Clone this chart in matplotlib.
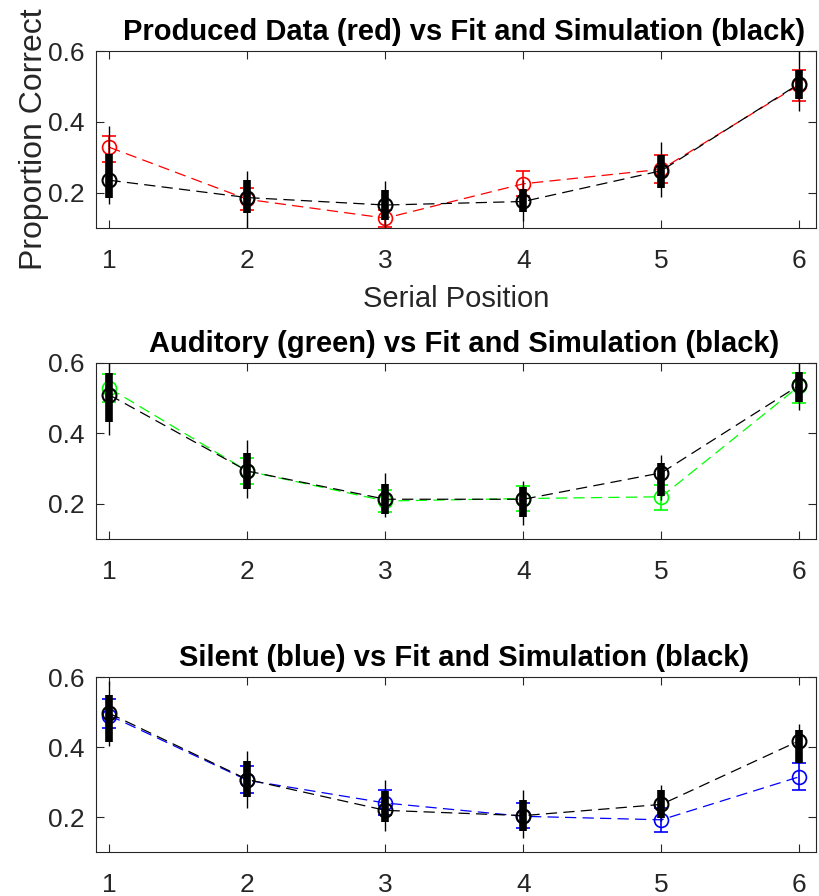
import matplotlib
matplotlib.use("Agg")
import matplotlib.pyplot as plt

plt.rcParams['font.family'] = ['Liberation Sans', 'DejaVu Sans']

pos = [1, 2, 3, 4, 5, 6]

# Produced (red)
prod_mean = [0.328, 0.181, 0.128, 0.225, 0.266, 0.505]
prod_lo = [0.287, 0.151, 0.103, 0.190, 0.227, 0.459]
prod_hi = [0.361, 0.212, 0.150, 0.260, 0.305, 0.546]
prod_fit = [0.235, 0.186, 0.165, 0.175, 0.262, 0.508]
prod_q1 = [0.186, 0.143, 0.123, 0.145, 0.212, 0.465]
prod_q3 = [0.310, 0.236, 0.207, 0.210, 0.307, 0.546]
prod_wlo = [0.169, 0.101, 0.100, 0.120, 0.188, 0.432]
prod_whi = [0.387, 0.262, 0.233, 0.235, 0.342, 0.600]

# Auditory (green)
aud_mean = [0.528, 0.293, 0.208, 0.215, 0.220, 0.535]
aud_lo = [0.490, 0.256, 0.176, 0.180, 0.182, 0.487]
aud_hi = [0.569, 0.329, 0.240, 0.251, 0.253, 0.572]
aud_fit = [0.509, 0.293, 0.213, 0.213, 0.288, 0.537]
aud_q1 = [0.433, 0.241, 0.171, 0.162, 0.222, 0.490]
aud_q3 = [0.572, 0.345, 0.256, 0.247, 0.317, 0.575]
aud_wlo = [0.395, 0.216, 0.162, 0.140, 0.210, 0.466]
aud_whi = [0.600, 0.381, 0.287, 0.265, 0.339, 0.600]

# Silent (blue)
sil_mean = [0.490, 0.305, 0.240, 0.202, 0.192, 0.315]
sil_lo = [0.453, 0.270, 0.207, 0.169, 0.157, 0.278]
sil_hi = [0.537, 0.346, 0.276, 0.240, 0.225, 0.355]
sil_fit = [0.496, 0.307, 0.219, 0.204, 0.236, 0.418]
sil_q1 = [0.415, 0.258, 0.185, 0.159, 0.197, 0.355]
sil_q3 = [0.548, 0.359, 0.273, 0.249, 0.276, 0.450]
sil_wlo = [0.403, 0.226, 0.159, 0.140, 0.190, 0.355]
sil_whi = [0.590, 0.388, 0.306, 0.276, 0.292, 0.465]

panels = [
    ("Produced Data (red) vs Fit and Simulation (black)", (1, 0, 0),
     prod_mean, prod_lo, prod_hi, prod_fit, prod_q1, prod_q3, prod_wlo, prod_whi),
    ("Auditory (green) vs Fit and Simulation (black)", (0, 1, 0),
     aud_mean, aud_lo, aud_hi, aud_fit, aud_q1, aud_q3, aud_wlo, aud_whi),
    ("Silent (blue) vs Fit and Simulation (black)", (0, 0, 1),
     sil_mean, sil_lo, sil_hi, sil_fit, sil_q1, sil_q3, sil_wlo, sil_whi),
]

rects = [
    [0.1167, 0.7455, 0.8783, 0.1975],
    [0.1167, 0.3984, 0.8783, 0.1965],
    [0.1167, 0.0491, 0.8783, 0.1953],
]

axcol = '#262626'
dash = (0, (9, 5))

fig = plt.figure(figsize=(8.2, 8.96), dpi=100)

for i, (title, col, m, lo, hi, fit, q1, q3, wlo, whi) in enumerate(panels):
    ax = fig.add_axes(rects[i])
    err = [[a - b for a, b in zip(m, lo)], [b - a for a, b in zip(m, hi)]]
    ax.errorbar(pos, m, yerr=err, color=col, ls=dash, lw=0.9, marker='o',
                mfc='none', ms=10, mew=1.2, capsize=5, elinewidth=1.2, zorder=2)
    # simulation boxes
    ax.vlines(pos, wlo, whi, color='k', lw=1.0, zorder=3)
    ax.vlines(pos, q1, q3, color='k', lw=5.5, zorder=3)
    # fit
    ax.plot(pos, fit, color='k', ls=dash, lw=0.9, marker='o', mfc='none',
            ms=10, mew=1.5, zorder=4)

    ax.set_xlim(0.9, 6.12)
    ax.set_ylim(0.1, 0.6)
    ax.set_xticks(pos)
    ax.set_yticks([0.2, 0.4, 0.6])
    ax.set_yticklabels(['0.2', '0.4', '0.6'])
    ax.tick_params(direction='in', length=6, width=0.8, colors=axcol,
                   labelsize=19, top=True, right=True)
    ax.tick_params(axis='x', pad=15)
    ax.tick_params(axis='y', pad=8)
    for s in ax.spines.values():
        s.set_color(axcol)
        s.set_linewidth(0.8)
    ax.set_title(title, fontsize=21, fontweight='bold', pad=8, x=0.512)
    if i == 0:
        ax.set_xlabel("Serial Position", fontsize=21, color=axcol, labelpad=9)
        ax.set_ylabel("Proportion Correct", fontsize=23, color=axcol, labelpad=-1)

fig.savefig("out.png", dpi=100)
